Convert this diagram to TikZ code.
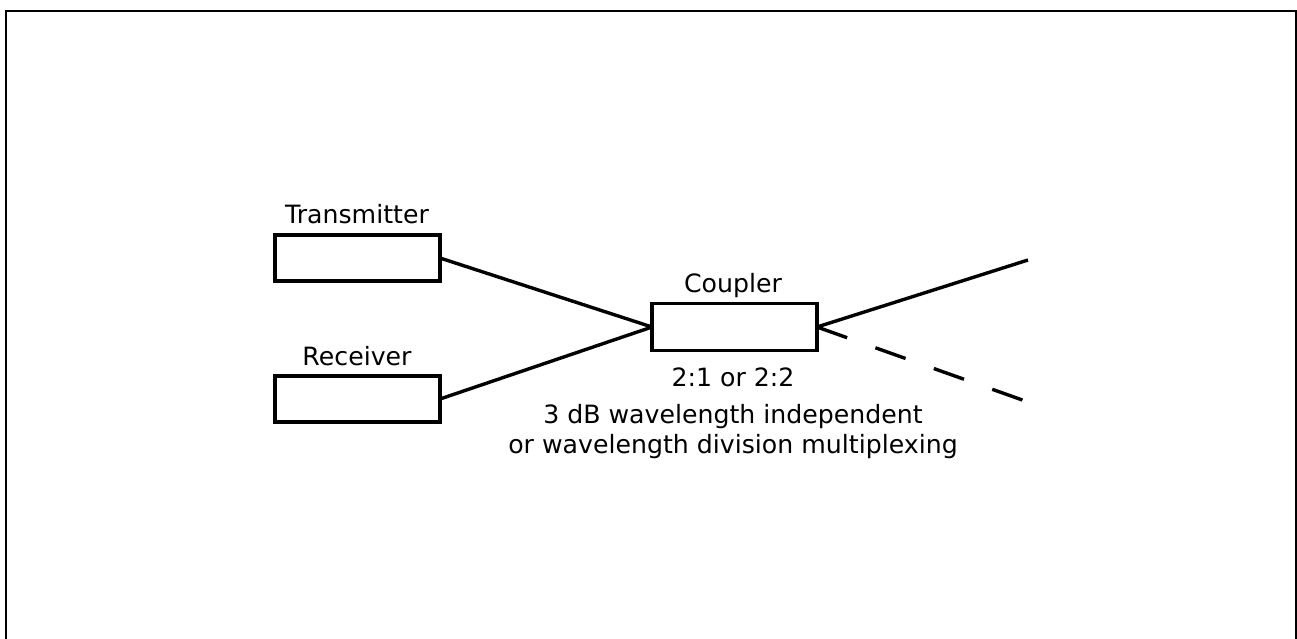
\documentclass[tikz,border=0pt]{standalone}
\usepackage{fontspec}
\setmainfont{DejaVu Sans}
\begin{document}
\begin{tikzpicture}[x=0.5pt,y=-0.5pt,
  box/.style={draw, line width=1.75pt, minimum width=82.5pt, minimum height=23pt, inner sep=0pt, outer sep=0pt},
  lbl/.style={anchor=base, inner sep=0pt, font=\fontsize{12.6}{15}\selectfont},
  wire/.style={line width=1.7pt},
  dwire/.style={line width=1.7pt, dash pattern=on 16pt off 15pt}]
\useasboundingbox (0,0) rectangle (1297,638);
\draw[line width=1.1pt] (6,640) -- (6,11) -- (1296,11) -- (1296,640);
\node[box] (tx) at (357.5,258) {};
\node[box] (rx) at (357.5,399) {};
\node[box, minimum height=23.5pt] (cp) at (734.5,327) {};
\node[lbl] (txl) at (357,223) {Transmitter};
\node[lbl] (rxl) at (357,365) {Receiver};
\node[lbl] (cpl) at (733,292) {Coupler};
\node[lbl] (r1) at (733,386) {2:1 or 2:2};
\node[lbl] (r2) at (733,423) {3 dB wavelength independent};
\node[lbl] (r3) at (733,453) {or wavelength division multiplexing};
\coordinate (o1) at (1028,260);
\coordinate (o2) at (1028,402);
\draw[wire] (tx.east) -- (cp.west);
\draw[wire] (rx.east) -- (cp.west);
\draw[wire] (cp.east) -- (o1);
\draw[dwire] (cp.east) -- (o2);
\end{tikzpicture}
\end{document}
